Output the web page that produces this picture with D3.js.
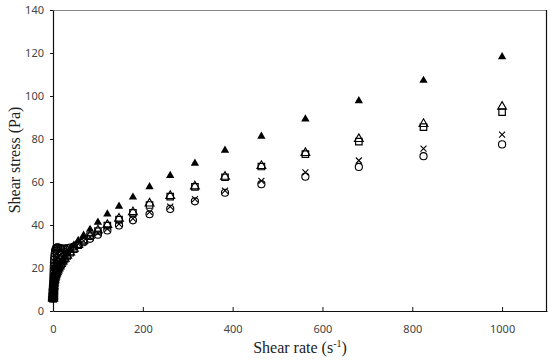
<!DOCTYPE html>
<html><head><meta charset="utf-8">
<script src="https://cdn.jsdelivr.net/npm/d3@7"></script>
<style>body{margin:0;background:#fff}svg{display:block}</style>
</head><body>
<script>
const shearRate = [0.1,0.121,0.147,0.178,0.215,0.261,0.316,0.383,0.464,0.562,0.681,0.825,1,1.21,1.47,1.78,2.15,2.61,3.16,3.83,4.64,5.62,6.81,8.25,10,12.1,14.7,17.8,21.5,26.1,31.6,38.3,46.4,56.2,68.1,82.5,100,121,147,178,215,261,316,383,464,562,681,825,1000];
const filledTriangle = [5.6,5.9,6.2,6.5,6.8,7.1,7.5,7.9,8.3,8.8,9.3,9.8,10.3,10.9,11.5,12.1,12.7,13.4,14.1,14.8,15.5,16.3,17.1,18,18.9,19.9,21,22.2,23.5,25,26.5,28.3,30.3,32.5,35,37.7,41,44.8,48.5,52.7,57.5,62.8,68.5,74.5,81,89,97.5,107,118];
const openTriangle = [5.8,6,6.3,6.6,6.9,7.2,7.6,8,8.5,9,9.5,10,10.6,11.2,11.8,12.5,13.2,13.9,14.6,15.3,16,16.7,17.4,18.1,18.9,19.8,20.8,21.9,23.1,24.4,25.8,27.3,29,30.8,32.8,35,37.5,40,43,46,50,53.5,58,62.5,67.5,73.5,80,87,95];
const openSquare = [5.7,5.9,6.2,6.5,6.8,7.1,7.5,7.9,8.4,8.9,9.4,9.9,10.5,11.1,11.7,12.4,13.1,13.8,14.5,15.2,15.9,16.6,17.3,18,18.7,19.6,20.6,21.7,22.9,24.2,25.6,27.1,28.8,30.6,32.6,34.8,37.2,39.7,42.5,45.6,49.3,53.2,57.7,62.2,67.2,73,78.8,85.5,92.5];
const cross = [5.7,6,6.3,6.6,7,7.4,7.9,8.5,9.2,10,10.9,11.9,13,14.2,15.5,16.8,18,19.2,20.3,21.3,22.2,23,23.8,24.4,25,25.5,26,26.5,27,27.6,28.2,29,30,31.2,32.6,34.3,36.2,38.2,40.5,43,46,48.5,52,56,60.5,64.5,70,75.5,82];
const openCircle = [5.9,6.2,6.6,7.1,7.7,8.4,9.2,10.1,11.1,12.2,13.4,14.7,16.1,17.6,19.2,20.8,22.4,24,25.4,26.7,27.8,28.6,29.2,29.5,29.6,29.5,29.3,29.1,29,29,29.2,29.5,30,30.8,32,33.6,35.5,37.5,39.8,42.2,45,47.5,51,55,59,62.5,67,72,77.5];
const xTicks = [0,200,400,600,800,1000];
const yTicks = [0,20,40,60,80,100,120,140];

const W = 550, H = 360;
const m = {left:53, right:3, top:10, bottom:49};
const svg = d3.select("body").append("svg").attr("width",W).attr("height",H);
const x = d3.scaleLinear().domain([0,1100]).range([m.left, W-m.right]);
const y = d3.scaleLinear().domain([0,140]).range([H-m.bottom, m.top]);

// frame
svg.append("line").attr("x1",x(0)).attr("x2",x(1100)).attr("y1",y(140)+0.5).attr("y2",y(140)+0.5).attr("stroke","#888").attr("stroke-width",1);
svg.append("line").attr("x1",x(1100)-0.5).attr("x2",x(1100)-0.5).attr("y1",y(140)).attr("y2",y(0)).attr("stroke","#111").attr("stroke-width",1.2);

const xAxis = svg.append("g").attr("transform",`translate(0,${y(0)})`)
  .call(d3.axisBottom(x).tickValues(xTicks).tickFormat(d3.format("d")).tickSizeInner(-4).tickSizeOuter(0).tickPadding(14));
const yAxis = svg.append("g").attr("transform",`translate(${x(0)},0)`)
  .call(d3.axisLeft(y).tickValues(yTicks).tickFormat(d3.format("d")).tickSizeInner(3).tickSizeOuter(0).tickPadding(6));
[xAxis,yAxis].forEach(g=>{
  g.select(".domain").attr("stroke","#111").attr("stroke-width",1.2);
  g.selectAll(".tick line").attr("stroke","#111");
  g.selectAll("text").attr("font-family","'Noto Sans', 'DejaVu Sans', sans-serif").attr("font-size",11).attr("fill","#444");
});
xAxis.selectAll(".tick line").filter(d=>d===0).remove();

const series = [
  {vals: openCircle, type:"circle"},
  {vals: cross, type:"cross"},
  {vals: openSquare, type:"square"},
  {vals: openTriangle, type:"otri"},
  {vals: filledTriangle, type:"ftri"}
];
const triPath = d3.symbol().type(d3.symbolTriangle).size(30)();
const otriPath = d3.symbol().type(d3.symbolTriangle).size(34)();
const sqPath = d3.symbol().type(d3.symbolSquare).size(42)();
const circPath = d3.symbol().type(d3.symbolCircle).size(40)();
const crossPath = "M-3,-3L3,3M-3,3L3,-3";

series.forEach(s=>{
  const g = svg.append("g");
  const pts = g.selectAll("path").data(s.vals.map((v,i)=>[shearRate[i],v])).join("path")
    .attr("transform",d=>`translate(${x(d[0])},${y(d[1])})`);
  if (s.type==="ftri") pts.attr("d",triPath).attr("fill","#000").attr("transform",d=>`translate(${x(d[0])},${y(d[1])-0.5})`);
  else if (s.type==="otri") pts.attr("d",otriPath).attr("fill","none").attr("stroke","#000").attr("stroke-width",1.1);
  else if (s.type==="square") pts.attr("d",sqPath).attr("fill","none").attr("stroke","#000").attr("stroke-width",1.2);
  else if (s.type==="circle") pts.attr("d",circPath).attr("fill","none").attr("stroke","#000").attr("stroke-width",1.1);
  else pts.attr("d",crossPath).attr("fill","none").attr("stroke","#000").attr("stroke-width",1.1);
});

// titles
const xt = svg.append("text").attr("x",300).attr("y",353).attr("text-anchor","middle")
  .attr("font-family","'Liberation Serif','Times New Roman',serif").attr("font-size",16).attr("fill","#222");
xt.append("tspan").text("Shear rate (s");
xt.append("tspan").attr("font-size",10).attr("dy",-6).text("-1");
xt.append("tspan").attr("dy",6).text(")");
svg.append("text").attr("transform","translate(20,160) rotate(-90)").attr("text-anchor","middle")
  .attr("font-family","'Liberation Serif','Times New Roman',serif").attr("font-size",16).attr("fill","#222")
  .text("Shear stress (Pa)");
</script>
</body></html>
